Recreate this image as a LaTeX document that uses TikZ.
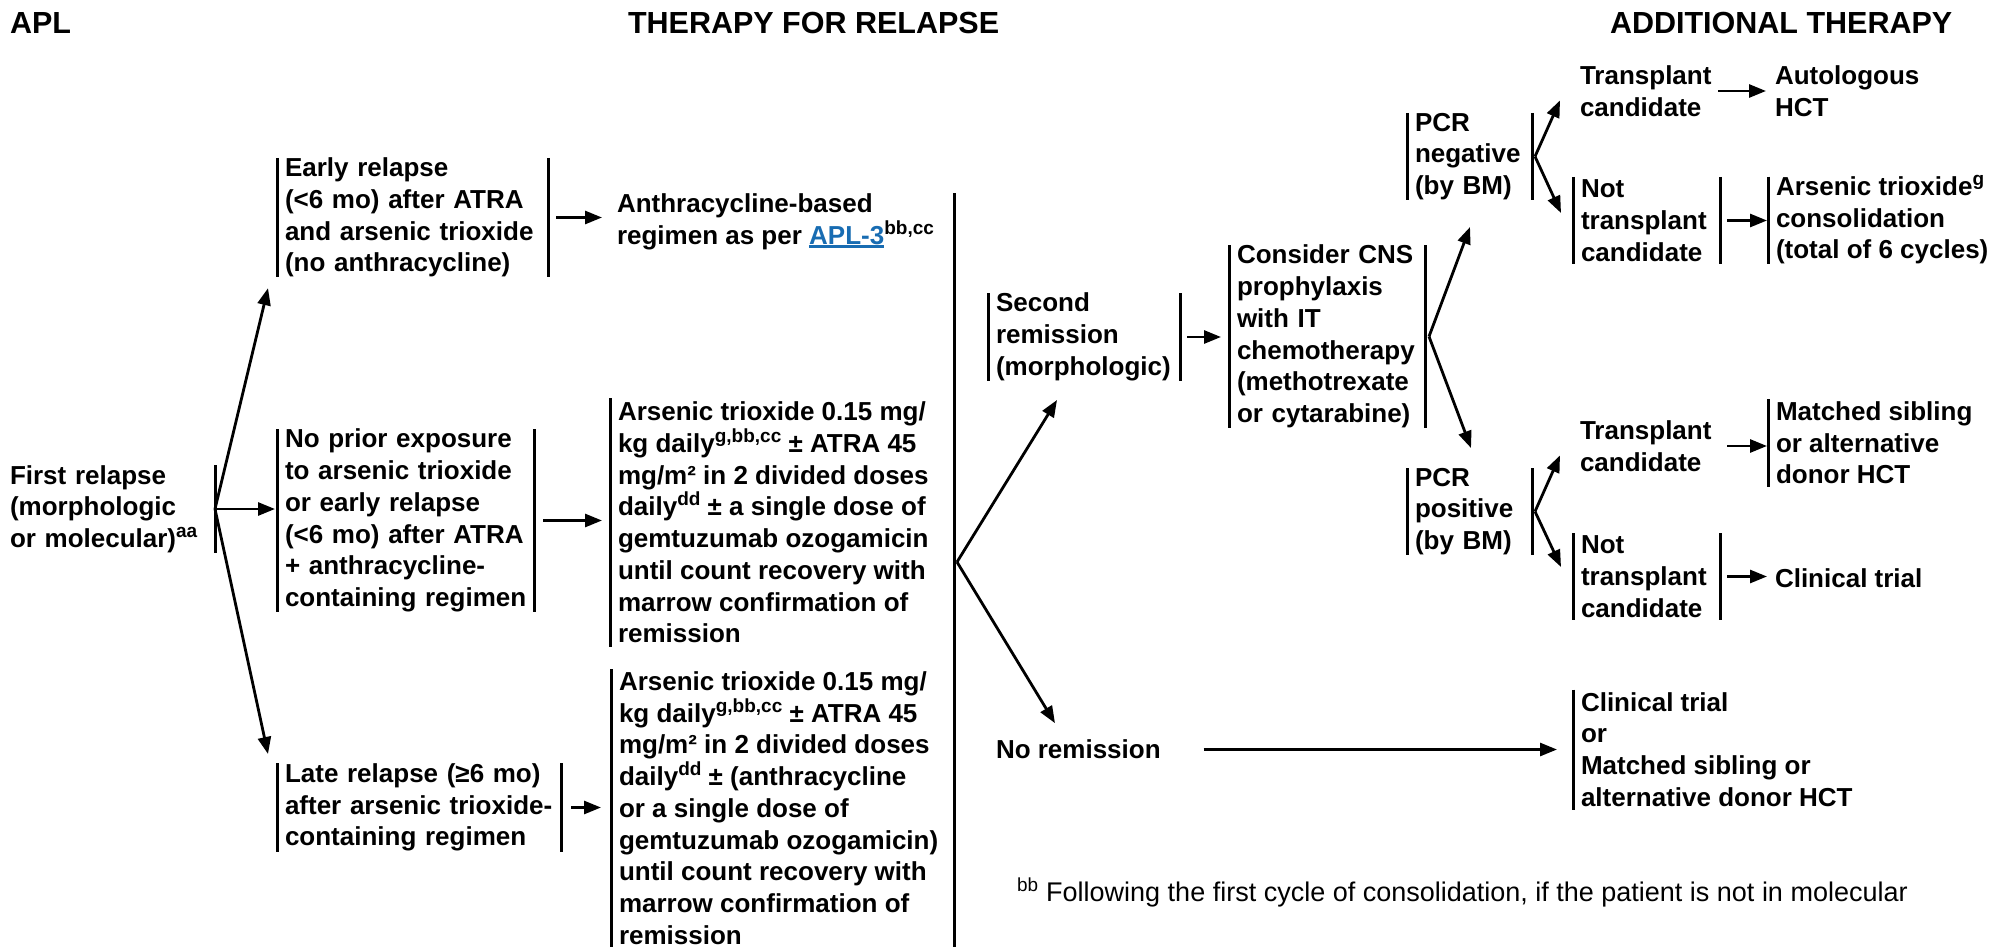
\documentclass[tikz,border=0pt]{standalone}
\usepackage{fontspec}
\setmainfont{Liberation Sans}
\usetikzlibrary{arrows.meta}
\definecolor{aplblue}{RGB}{24,108,178}
\newcommand{\bodyfont}{\fontsize{26}{31.7}\selectfont\bfseries}
\newcommand{\titlefont}{\fontsize{30.5}{36}\selectfont\bfseries}
\newcommand{\notefont}{\fontsize{27}{32}\selectfont}
\newcommand{\sups}[1]{\smash{\raisebox{10pt}{\fontsize{19}{19}\selectfont #1}}}
\newcommand{\ulink}[1]{\textcolor{aplblue}{\setbox0\hbox{#1}\rlap{\rule[-3.5pt]{\wd0}{2.2pt}}\box0}}
\begin{document}
\begin{tikzpicture}[x=1pt,y=-1pt,
  txt/.style={inner sep=0pt, outer sep=0pt, align=left, font=\bodyfont},
  box/.style={txt, anchor=west, inner xsep=8pt, inner ysep=0pt,
    execute at begin node={\hyphenpenalty=10000\exhyphenpenalty=10000}},
  ttl/.style={inner sep=0pt, outer sep=0pt, anchor=west, font=\titlefont},
  barline/.style={line width=3pt},
  conn/.style={line width=2.8pt},
  arr/.style={conn, -{Triangle[length=17pt,width=13pt]}}]
\useasboundingbox (0,0) rectangle (1990,947);

% titles
\node[ttl] (t1) at (10,23) {APL};
\node[ttl] (t2) at (628,23) {THERAPY FOR RELAPSE};
\node[ttl] (t3) at (1610,23) {ADDITIONAL THERAPY};

% left part
\node[box, text width=197pt, minimum height=86pt] (fr) at (2,509) {First~relapse\\(morphologic\\or~molecular)\sups{aa}};
\node[box, text width=255pt, minimum height=119pt] (er) at (277,217.5) {Early~relapse\\(<6~mo)~after~ATRA\\and~arsenic~trioxide\\(no~anthracycline)};
\node[box] (an) at (609,221.5) {Anthracycline-based\\regimen as per \ulink{APL-3}\sups{bb,cc}};
\node[box, text width=241pt, minimum height=183pt] (np) at (277,520.5) {No~prior~exposure\\to~arsenic~trioxide\\or~early~relapse\\(<6~mo)~after~ATRA\\+~anthracycline-\\containing~regimen};
\node[box, minimum height=249pt] (a1) at (610,522.5) {Arsenic trioxide 0.15 mg/\\kg daily\sups{g,bb,cc} ± ATRA 45\\mg/m² in 2 divided doses\\daily\sups{dd} ± a single dose of\\gemtuzumab ozogamicin\\until count recovery with\\marrow confirmation of\\remission};
\node[box, text width=268pt, minimum height=89pt] (lr) at (277,807.5) {Late~relapse~(≥6~mo)\\after~arsenic~trioxide-\\containing~regimen};
\node[box, minimum height=278pt] (a2) at (611,808) {Arsenic trioxide 0.15 mg/\\kg daily\sups{g,bb,cc} ± ATRA 45\\mg/m² in 2 divided doses\\daily\sups{dd} ± (anthracycline\\or a single dose of\\gemtuzumab ozogamicin)\\until count recovery with\\marrow confirmation of\\remission};

% middle
\node[box, text width=176pt, minimum height=88pt] (sr) at (988,337) {Second\\remission\\(morphologic)};
\node[txt, anchor=base west] (nr) at (996,758) {No remission};
\node[box, text width=180pt, minimum height=183pt] (cns) at (1229,336.5) {Consider~CNS\\prophylaxis\\with~IT\\chemotherapy\\(methotrexate\\or~cytarabine)};

% right
\node[box, text width=109pt, minimum height=87pt] (pn) at (1407,156.5) {PCR\\negative\\(by~BM)};
\node[box] (tc1) at (1572,91) {Transplant\\candidate};
\node[box] (ah) at (1767,91) {Autologous\\HCT};
\node[box, text width=131pt, minimum height=87pt] (nt1) at (1573,220.5) {Not\\transplant\\candidate};
\node[box, minimum height=87pt] (at) at (1768,220.5) {Arsenic trioxide\sups{g}\\consolidation\\(total of 6 cycles)};
\node[box, text width=109pt, minimum height=83pt] (pp) at (1407,511.5) {PCR\\positive\\(by~BM)};
\node[box] (tc2) at (1572,446) {Transplant\\candidate};
\node[box, minimum height=88pt] (ms) at (1768,443) {Matched sibling\\or alternative\\donor HCT};
\node[box, text width=131pt, minimum height=87pt] (nt2) at (1573,576.5) {Not\\transplant\\candidate};
\node[txt, anchor=base west] (ct) at (1775,587) {Clinical trial};
\node[box, minimum height=120pt] (ctm) at (1573,749.5) {Clinical trial\\or\\Matched sibling or\\alternative donor HCT};

% footnote
\node[inner sep=0pt, anchor=base west, font=\notefont] (fn) at (1017,901) {\textsuperscript{bb} Following the first cycle of consolidation, if the patient is not in molecular};

% bars
\foreach \n in {er,np,lr,a1,a2,sr,cns,pn,nt1,at,pp,ms,nt2,ctm}
  \draw[barline] (\n.north west) -- (\n.south west);
\foreach \n in {fr,er,np,lr,sr,cns,pn,nt1,pp,nt2}
  \draw[barline] (\n.north east) -- (\n.south east);
\coordinate (ctop) at (954,193);
\coordinate (cbot) at (954,947);
\draw[barline] (ctop) -- (cbot);

% tip coordinates
\coordinate (ter) at ([xshift=-9pt,yshift=-11pt]er.south west);
\coordinate (tlr) at ([xshift=-9pt,yshift=9pt]lr.north west);
\coordinate (f1) at (957,562);
\coordinate (tsr) at ([xshift=69pt,yshift=-19pt]sr.south west);
\coordinate (tnr) at ([xshift=59pt,yshift=16pt]nr.north west);
\coordinate (fc) at ([xshift=4pt]cns.east);
\coordinate (tpn) at ([xshift=63pt,yshift=-27pt]pn.south west);
\coordinate (tpp) at ([xshift=64pt,yshift=20pt]pp.north west);
\coordinate (fpn) at ([xshift=3pt]pn.east);
\coordinate (ttc1) at ([xshift=-12pt,yshift=16pt]tc1.south west);
\coordinate (tnt1) at ([xshift=-12pt,yshift=-36pt]nt1.north west);
\coordinate (fpp) at ([xshift=3pt]pp.east);
\coordinate (ttc2) at ([xshift=-12pt,yshift=16pt]tc2.south west);
\coordinate (tnt2) at ([xshift=-12pt,yshift=-34pt]nt2.north west);

% connectors
\draw[arr] (fr.east) -- (ter);
\draw[arr, shorten >=2pt] (fr.east) -- (fr.east -| np.west);
\draw[arr] (fr.east) -- (tlr);
\draw[arr, shorten <=8pt, shorten >=7pt] (er.east) -- (er.east -| an.west);
\draw[arr, shorten <=9pt, shorten >=8pt] (np.east) -- (np.east -| a1.west);
\draw[arr, shorten <=10pt, shorten >=10pt] (lr.east) -- (lr.east -| a2.west);
\draw[arr] (f1) -- (tsr);
\draw[arr] (f1) -- (tnr);
\draw[arr, shorten <=7pt, shorten >=8pt] (sr.east) -- (sr.east -| cns.west);
\draw[arr] (fc) -- (tpn);
\draw[arr] (fc) -- (tpp);
\draw[arr] (fpn) -- (ttc1);
\draw[arr] (fpn) -- (tnt1);
\draw[arr] (fpp) -- (ttc2);
\draw[arr] (fpp) -- (tnt2);
\draw[arr, shorten <=-1pt, shorten >=1pt] (tc1.east) -- (tc1.east -| ah.west);
\draw[arr, shorten <=7pt, shorten >=1pt] (nt1.east) -- (nt1.east -| at.west);
\draw[arr, shorten <=8pt, shorten >=1pt] (tc2.east) -- (tc2.east -| ms.west);
\draw[arr, shorten <=7pt, shorten >=8pt] (nt2.east) -- (nt2.east -| ct.west);
\draw[arr, shorten <=43pt, shorten >=16pt] (nr.east |- ctm.west) -- (ctm.west);
\end{tikzpicture}
\end{document}
